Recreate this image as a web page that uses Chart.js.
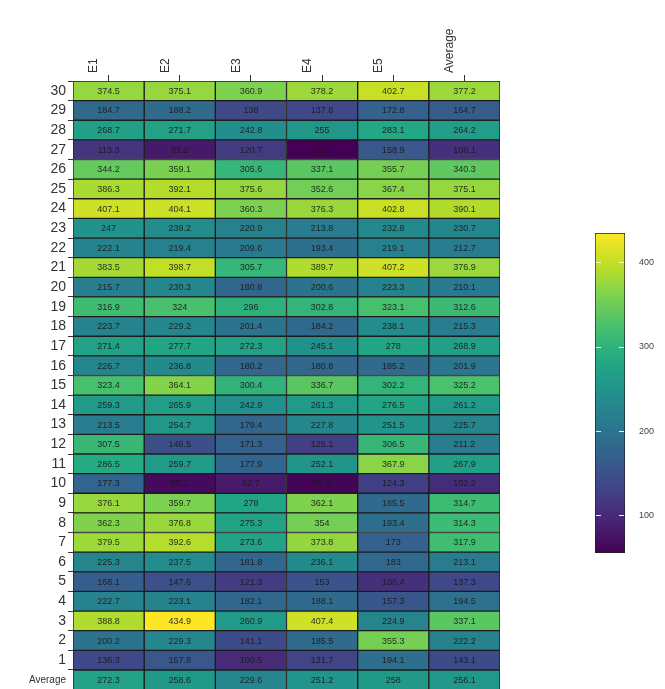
<!DOCTYPE html>
<html>
<head>
<meta charset="utf-8">
<script src="https://cdn.jsdelivr.net/npm/chart.js@4.4.1/dist/chart.umd.min.js"></script>
<style>
  html, body { margin: 0; padding: 0; background: #fff; overflow: hidden; }
  #heatWrap { position: absolute; left: 0; top: 0; width: 665px; height: 700px; }
  #barWrap { position: absolute; left: 590px; top: 220px; width: 75px; height: 350px; }
</style>
</head>
<body>
<div id="heatWrap"><canvas id="heatChart"></canvas></div>
<div id="barWrap"><canvas id="scaleChart"></canvas></div>
<script>
// Row labels, top to bottom
const rowLabels = ["30", "29", "28", "27", "26", "25", "24", "23", "22", "21", "20",
  "19", "18", "17", "16", "15", "14", "13", "12", "11", "10",
  "9", "8", "7", "6", "5", "4", "3", "2", "1", "Average"];

const columnLabels = ["E1", "E2", "E3", "E4", "E5", "Average"];

// Values per column, same order as rowLabels
const e1 = [374.5, 184.7, 268.7, 113.3, 344.2, 386.3, 407.1, 247, 222.1, 383.5, 215.7,
  316.9, 223.7, 271.4, 226.7, 323.4, 259.3, 213.5, 307.5, 286.5, 177.3,
  376.1, 362.3, 379.5, 225.3, 168.1, 222.7, 388.8, 200.2, 136.3, 272.3];
const e2 = [375.1, 188.2, 271.7, 81.2, 359.1, 392.1, 404.1, 239.2, 219.4, 398.7, 230.3,
  324, 229.2, 277.7, 236.8, 364.1, 265.9, 254.7, 146.5, 259.7, 65.2,
  359.7, 376.8, 392.6, 237.5, 147.6, 223.1, 434.9, 229.3, 157.8, 258.6];
const e3 = [360.9, 138, 242.8, 120.7, 305.6, 375.6, 360.3, 220.9, 209.6, 305.7, 180.8,
  296, 201.4, 272.3, 180.2, 300.4, 242.9, 179.4, 171.3, 177.9, 82.7,
  278, 275.3, 273.6, 181.8, 121.3, 182.1, 260.9, 141.1, 100.5, 229.6];
const e4 = [378.2, 137.8, 255, 55.4, 337.1, 352.6, 376.3, 213.8, 193.4, 389.7, 200.6,
  302.8, 184.2, 245.1, 180.8, 336.7, 261.3, 227.8, 125.1, 252.1, 59.3,
  362.1, 354, 373.8, 236.1, 153, 188.1, 407.4, 185.5, 131.7, 251.2];
const e5 = [402.7, 172.8, 283.1, 158.9, 355.7, 367.4, 402.8, 232.8, 219.1, 407.2, 223.3,
  323.1, 238.1, 278, 185.2, 302.2, 276.5, 251.5, 306.5, 367.9, 124.3,
  185.5, 193.4, 173, 183, 106.4, 157.3, 224.9, 355.3, 194.1, 258];
const avg = [377.2, 164.7, 264.2, 108.1, 340.3, 375.1, 390.1, 230.7, 212.7, 376.9, 210.1,
  312.6, 215.3, 268.9, 201.9, 325.2, 261.2, 225.7, 211.2, 267.9, 102.2,
  314.7, 314.3, 317.9, 213.1, 137.3, 194.5, 337.1, 222.2, 143.1, 256.1];

const columns = [e1, e2, e3, e4, e5, avg];
const scaleTicks = [100, 200, 300, 400];

const allValues = columns.flat();
const vMin = Math.min(...allValues);
const vMax = Math.max(...allValues);

// viridis colour ramp
const viridis = ["#440154", "#482475", "#414487", "#355f8d", "#2a788e", "#21918c",
  "#22a884", "#44bf70", "#7ad151", "#bddf26", "#fde725"];

function hexToRgb(h) {
  return [parseInt(h.slice(1, 3), 16), parseInt(h.slice(3, 5), 16), parseInt(h.slice(5, 7), 16)];
}

function viridisColor(v) {
  let t = (v - vMin) / (vMax - vMin);
  t = Math.max(0, Math.min(1, t));
  const pos = t * (viridis.length - 1);
  const i = Math.min(Math.floor(pos), viridis.length - 2);
  const f = pos - i;
  const a = hexToRgb(viridis[i]);
  const b = hexToRgb(viridis[i + 1]);
  const c = a.map((x, k) => Math.round(x + (b[k] - x) * f));
  return `rgb(${c[0]},${c[1]},${c[2]})`;
}

// Draw the numbers inside each cell
const cellLabels = {
  id: "cellLabels",
  afterDatasetsDraw(chart) {
    const ctx = chart.ctx;
    ctx.save();
    ctx.font = "9px 'Liberation Sans', Arial, sans-serif";
    ctx.fillStyle = "rgba(25,25,25,0.9)";
    ctx.textAlign = "center";
    ctx.textBaseline = "middle";
    chart.data.datasets.forEach((ds, d) => {
      const meta = chart.getDatasetMeta(d);
      meta.data.forEach((bar, j) => {
        const p = bar.getProps(["x", "y", "base"], true);
        ctx.fillText(String(ds.values[j]), (p.x + p.base) / 2, p.y + 0.5);
      });
    });
    ctx.restore();
  },
};

function initHeatmap() {
  const datasets = columns.map((vals, i) => ({
    label: columnLabels[i],
    values: vals,
    data: vals.map(() => [i, i + 1]),
    backgroundColor: vals.map(viridisColor),
    borderColor: "#1c1c1c",
    borderWidth: 1,
    borderSkipped: false,
    grouped: false,
    barPercentage: 1,
    categoryPercentage: 1,
  }));

  new Chart(document.getElementById("heatChart").getContext("2d"), {
    type: "bar",
    data: { labels: rowLabels, datasets: datasets },
    options: {
      indexAxis: "y",
      responsive: true,
      maintainAspectRatio: false,
      animation: false,
      layout: { padding: { left: 0, top: 0, right: 165, bottom: 9 } },
      plugins: { legend: { display: false }, tooltip: { enabled: false } },
      scales: {
        x: {
          type: "linear",
          position: "top",
          min: 0,
          max: columnLabels.length,
          afterBuildTicks: (scale) => {
            scale.ticks = columnLabels.map((_, i) => ({ value: i + 0.5 }));
          },
          afterFit: (scale) => { scale.height = 81; },
          ticks: {
            autoSkip: false,
            minRotation: 90,
            maxRotation: 90,
            padding: 2,
            color: "#333",
            font: { family: "'Liberation Sans', Arial, sans-serif", size: 12 },
            callback: (v) => columnLabels[Math.floor(v)],
          },
          grid: { drawOnChartArea: false, drawTicks: true, tickLength: 6, color: "#333" },
          border: { display: false },
        },
        y: {
          afterFit: (scale) => { scale.width = 73; },
          ticks: {
            autoSkip: false,
            padding: 2,
            color: "#333",
            font: (ctx) => ({
              family: "'Liberation Sans', Arial, sans-serif",
              size: ctx.tick && ctx.tick.label === "Average" ? 10 : 14,
            }),
          },
          grid: { drawOnChartArea: false, drawTicks: true, tickLength: 5, color: "#333" },
          border: { display: false },
        },
      },
    },
    plugins: [cellLabels],
  });
}

// small white ticks on the colour bar
const barTicks = {
  id: "barTicks",
  afterDatasetsDraw(chart) {
    const ctx = chart.ctx;
    const area = chart.chartArea;
    const y = chart.scales.y;
    ctx.save();
    ctx.strokeStyle = "rgba(255,255,255,0.9)";
    ctx.lineWidth = 1;
    scaleTicks.forEach((t) => {
      const py = Math.round(y.getPixelForValue(t)) + 0.5;
      ctx.beginPath();
      ctx.moveTo(area.left + 1, py);
      ctx.lineTo(area.left + 6, py);
      ctx.moveTo(area.right - 6, py);
      ctx.lineTo(area.right - 1, py);
      ctx.stroke();
    });
    ctx.restore();
  },
};

function initScale() {
  new Chart(document.getElementById("scaleChart").getContext("2d"), {
    type: "bar",
    data: {
      labels: ["scale"],
      datasets: [{
        data: [[vMin, vMax]],
        backgroundColor: (ctx) => {
          const area = ctx.chart.chartArea;
          if (!area) return viridis[5];
          const g = ctx.chart.ctx.createLinearGradient(0, area.bottom, 0, area.top);
          viridis.forEach((c, i) => g.addColorStop(i / (viridis.length - 1), c));
          return g;
        },
        borderColor: "#222",
        borderWidth: 1,
        borderSkipped: false,
        barPercentage: 1,
        categoryPercentage: 1,
      }],
    },
    options: {
      responsive: true,
      maintainAspectRatio: false,
      animation: false,
      layout: { padding: { left: 5, top: 13, right: 0, bottom: 17 } },
      plugins: { legend: { display: false }, tooltip: { enabled: false } },
      scales: {
        x: { display: false },
        y: {
          position: "right",
          min: vMin,
          max: vMax,
          afterFit: (scale) => { scale.width = 40; },
          afterBuildTicks: (scale) => {
            scale.ticks = scaleTicks.map((v) => ({ value: v }));
          },
          ticks: {
            padding: 6,
            color: "#444",
            font: { family: "'Liberation Sans', Arial, sans-serif", size: 9 },
          },
          grid: { display: false },
          border: { display: false },
        },
      },
    },
    plugins: [barTicks],
  });
}

document.addEventListener("DOMContentLoaded", function () {
  initHeatmap();
  initScale();
});
</script>
</body>
</html>
